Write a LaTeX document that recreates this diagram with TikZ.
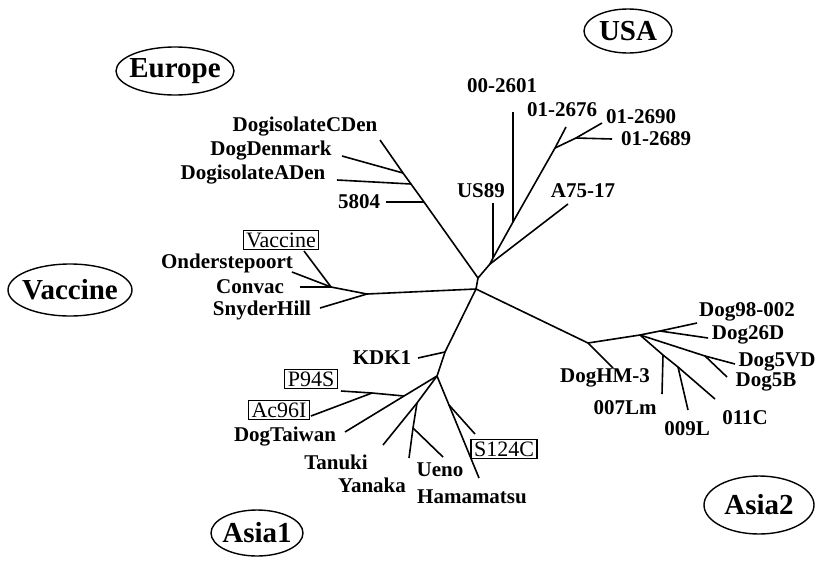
\documentclass[tikz,border=0pt]{standalone}
\usepackage{fontspec}
\setmainfont{Liberation Serif}
\usetikzlibrary{shapes.geometric}

\begin{document}
\begin{tikzpicture}[
  x=1pt, y=-1pt,
  branch/.style={line width=1.6pt},
  tip/.style={font=\bfseries\fontsize{21}{23}\selectfont, inner sep=0pt},
  tagbox/.style={draw, line width=1.3pt, font=\fontsize{22}{24}\selectfont,
                 inner xsep=3pt, inner ysep=2pt},
  region/.style={draw, ellipse, line width=1.4pt, inner xsep=-8pt, inner ysep=0pt,
                 font=\bfseries\fontsize{29}{31}\selectfont}
]
  \useasboundingbox (0,0) rectangle (818,565);

  % regions
  \node[region, minimum width=118, minimum height=48] (europe)  at (175,71)  {Europe};
  \node[region, minimum width=88,  minimum height=44] (usa)     at (628,31)  {USA};
  \node[region, minimum width=124, minimum height=52] (vaccine) at (70,290)  {Vaccine};
  \node[region, minimum width=92,  minimum height=46] (asiaA)   at (257,533) {Asia1};
  \node[region, minimum width=110, minimum height=58] (asiaB)   at (759,505) {Asia2};

  % inner points of the tree
  \coordinate (hub) at (476,289);
  \coordinate (up)  at (478,278);
  \coordinate (e5)  at (424,202);
  \coordinate (eA)  at (411,184);
  \coordinate (eD)  at (403,173);
  \coordinate (u1)  at (490,264);
  \coordinate (u2)  at (493,258);
  \coordinate (u3)  at (513,222);
  \coordinate (u4)  at (555,148);
  \coordinate (u5)  at (576,138);
  \coordinate (v1)  at (367,294);
  \coordinate (v2)  at (331,287);
  \coordinate (a1)  at (445,352);
  \coordinate (a2)  at (437,376);
  \coordinate (a3)  at (404,396);
  \coordinate (a4)  at (372,393);
  \coordinate (a5)  at (417,403);
  \coordinate (a6)  at (413,428);
  \coordinate (a7)  at (449,405);
  \coordinate (b1)  at (588,343);
  \coordinate (b2)  at (640,335);
  \coordinate (b3)  at (660,331);
  \coordinate (b4)  at (705,356);
  \coordinate (b5)  at (663,355);
  \coordinate (b6)  at (678,367);

  % leaf ends
  \coordinate (lCDen)  at (380,140);
  \coordinate (lDenm)  at (342,156);
  \coordinate (lADen)  at (337,180);
  \coordinate (l5804)  at (386,202);
  \coordinate (lUS89)  at (493,203);
  \coordinate (l2601)  at (513,112);
  \coordinate (l2676)  at (566,127);
  \coordinate (l2690)  at (602,123);
  \coordinate (l2689)  at (612,139);
  \coordinate (lA75)   at (568,204);
  \coordinate (lVacc)  at (304,251);
  \coordinate (lOnde)  at (292,272);
  \coordinate (lConv)  at (300,287);
  \coordinate (lSnyd)  at (320,308);
  \coordinate (lKDK)   at (418,358);
  \coordinate (lP94)   at (341,391);
  \coordinate (lAc96)  at (311,416);
  \coordinate (lTaiw)  at (345,432);
  \coordinate (lTanu)  at (383,445);
  \coordinate (lYana)  at (409,458);
  \coordinate (lUeno)  at (443,457);
  \coordinate (lS124)  at (475,434);
  \coordinate (lHama)  at (479,478);
  \coordinate (lHM3)   at (613,368);
  \coordinate (l98)    at (697,323);
  \coordinate (l26D)   at (708,338);
  \coordinate (l5VD)   at (735,364);
  \coordinate (l5B)    at (727,377);
  \coordinate (l007)   at (662,394);
  \coordinate (l009)   at (688,410);
  \coordinate (l011)   at (715,399);

  % labels
  \node[tip] (tCDen) at (305,127) {DogisolateCDen};
  \node[tip] (tDenm) at (271,151) {DogDenmark};
  \node[tip] (tADen) at (253,175) {DogisolateADen};
  \node[tip] (t5804) at (359,202) {5804};
  \node[tip] (t2601) at (502,86)  {00-2601};
  \node[tip] (t2676) at (562,110) {01-2676};
  \node[tip] (t2690) at (641,117) {01-2690};
  \node[tip] (t2689) at (656,139) {01-2689};
  \node[tip] (tUS89) at (481,191) {US89};
  \node[tip] (tA75)  at (583,191) {A75-17};
  \node[tagbox] (tVacc) at (281,240) {Vaccine};
  \node[tip] (tOnde) at (227,263) {Onderstepoort};
  \node[tip] (tConv) at (250,287) {Convac};
  \node[tip] (tSnyd) at (262,310) {SnyderHill};
  \node[tip] (tKDK)  at (382,358) {KDK1};
  \node[tagbox] (tP94)  at (311,379) {P94S};
  \node[tagbox] (tAc96) at (279,410) {Ac96I};
  \node[tip] (tTaiw) at (285,437) {DogTaiwan};
  \node[tip] (tTanu) at (336,462) {Tanuki};
  \node[tip] (tYana) at (372,485) {Yanaka};
  \node[tip] (tUeno) at (440,470) {Ueno};
  \node[tagbox] (tS124) at (504,449) {S124C};
  \node[tip] (tHama) at (472,497) {Hamamatsu};
  \node[tip] (tHM3)  at (605,378) {DogHM-3};
  \node[tip] (t98)   at (747,312) {Dog98-002};
  \node[tip] (t26D)  at (748,335) {Dog26D};
  \node[tip] (t5VD)  at (777,362) {Dog5VD};
  \node[tip] (t5B)   at (766,382) {Dog5B};
  \node[tip] (t007)  at (625,408) {007Lm};
  \node[tip] (t009)  at (687,429) {009L};
  \node[tip] (t011)  at (745,418) {011C};

  % Europe
  \draw[branch] (hub) -- (up) -- (e5) -- (eA) -- (eD) -- (lCDen);
  \draw[branch] (eD) -- (lDenm);
  \draw[branch] (eA) -- (lADen);
  \draw[branch] (e5) -- (l5804);
  % USA
  \draw[branch] (up) -- (u1) -- (u2) -- (u3) -- (u4) -- (l2676);
  \draw[branch] (u1) -- (lA75);
  \draw[branch] (u2) -- (lUS89);
  \draw[branch] (u3) -- (l2601);
  \draw[branch] (u4) -- (u5) -- (l2690);
  \draw[branch] (u5) -- (l2689);
  % Vaccine
  \draw[branch] (hub) -- (v1) -- (v2) -- (lConv);
  \draw[branch] (v1) -- (lSnyd);
  \draw[branch] (v2) -- (lOnde);
  \draw[branch] (v2) -- (lVacc);
  % Asia1
  \draw[branch] (hub) -- (a1) -- (a2) -- (a3) -- (lTaiw);
  \draw[branch] (a1) -- (lKDK);
  \draw[branch] (a3) -- (a4) -- (lP94);
  \draw[branch] (a4) -- (lAc96);
  \draw[branch] (a2) -- (a5) -- (lTanu);
  \draw[branch] (a5) -- (a6) -- (lYana);
  \draw[branch] (a6) -- (lUeno);
  \draw[branch] (a2) -- (a7) -- (lHama);
  \draw[branch] (a7) -- (lS124);
  % Asia2
  \draw[branch] (hub) -- (b1) -- (lHM3);
  \draw[branch] (b1) -- (b2) -- (b3) -- (l98);
  \draw[branch] (b3) -- (l26D);
  \draw[branch] (b2) -- (b4) -- (l5VD);
  \draw[branch] (b4) -- (l5B);
  \draw[branch] (b2) -- (b5) -- (b6) -- (l011);
  \draw[branch] (b5) -- (l007);
  \draw[branch] (b6) -- (l009);
\end{tikzpicture}
\end{document}
